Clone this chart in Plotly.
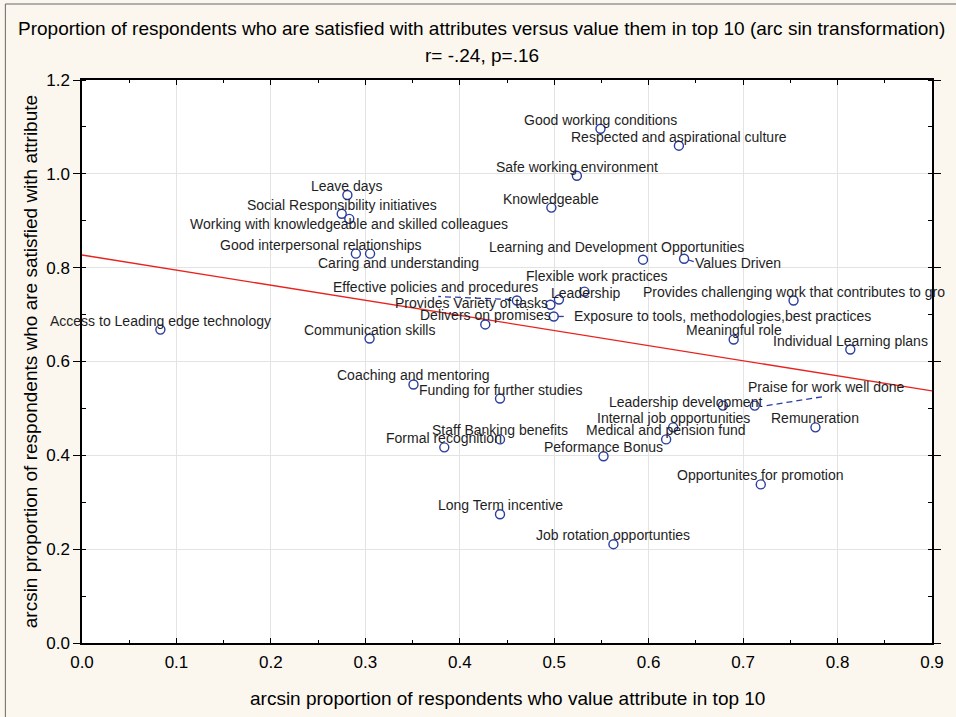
import plotly.graph_objects as go

# ---- data ----
attributes = [
    "Access to Leading edge technology", "Good working conditions",
    "Respected and aspirational culture", "Safe working environment",
    "Knowledgeable", "Leave days", "Social Responsibility initiatives",
    "Working with knowledgeable and skilled colleagues",
    "Good interpersonal relationships", "Caring and understanding",
    "Learning and Development Opportunities", "Values Driven",
    "Flexible work practices", "Leadership", "Provides Variety of tasks",
    "Effective policies and procedures", "Delivers on promises",
    "Exposure to tools, methodologies,best practices", "Communication skills",
    "Provides challenging work that contributes to gro", "Meaningful role",
    "Individual Learning plans", "Coaching and mentoring",
    "Funding for further studies", "Leadership development",
    "Praise for work well done", "Internal job opportunities",
    "Medical and pension fund", "Remuneration", "Peformance Bonus",
    "Staff Banking benefits", "Formal recognition",
    "Opportunites for promotion", "Long Term incentive",
    "Job rotation opportunties",
]
value_top10 = [0.083, 0.549, 0.632, 0.524, 0.497, 0.281, 0.275, 0.283, 0.290,
               0.305, 0.594, 0.6375, 0.532, 0.505, 0.496, 0.4605, 0.427, 0.4995,
               0.3045, 0.7534, 0.690, 0.8135, 0.351, 0.4426, 0.6786, 0.7123,
               0.6259, 0.6185, 0.7766, 0.5522, 0.4426, 0.3836, 0.7187, 0.4426,
               0.5627]
satisfied = [0.668, 1.096, 1.060, 0.996, 0.928, 0.955, 0.915, 0.904, 0.830,
             0.830, 0.817, 0.819, 0.749, 0.732, 0.721, 0.730, 0.679, 0.696,
             0.649, 0.730, 0.647, 0.6255, 0.551, 0.521, 0.506, 0.506, 0.4596,
             0.434, 0.4596, 0.398, 0.434, 0.417, 0.338, 0.2745, 0.2106]

fit_intercept = 0.827
fit_slope = -0.322
x_range = [0.0, 0.9]
y_range = [0.0, 1.2]

# ---- label placement (pixel offsets of label centre from point, y down) ----
label_offsets = {
    "Good interpersonal relationships": (-35, -9),
    "Caring and understanding": (28, 9),
    "Working with knowledgeable and skilled colleagues": (0, 5),
    "Learning and Development Opportunities": (-27, -13),
    "Values Driven": (54, 4),
    "Flexible work practices": (13, -16),
    "Leadership": (27, -7),
    "Provides Variety of tasks": (-79, -2),
    "Effective policies and procedures": (-81, -14),
    "Exposure to tools, methodologies,best practices": (169, 0),
    "Leadership development": (-37, -4),
    "Praise for work well done": (72, -19),
}
default_offset = (0, -9)
leaders = {  # (start offset, end offset) in pixels, y down
    "Effective policies and procedures": ((-6, -1), (-79, -4)),
    "Values Driven": ((4, 1), (10, 3)),
    "Exposure to tools, methodologies,best practices": ((4, 0), (11, 0)),
    "Praise for work well done": ((12, 0), (69, -9)),
}

W, H = 956, 717
ML, MR, MT, MB = 82, 20, 80, 74
pw, ph = W - ML - MR, H - MT - MB
px_x = pw / (x_range[1] - x_range[0])
px_y = ph / (y_range[1] - y_range[0])

BLUE = "#2B3D9E"
FONT = "Liberation Sans, Arial, sans-serif"

fig = go.Figure()

# regression line
fig.add_trace(go.Scatter(
    x=x_range, y=[fit_intercept + fit_slope * v for v in x_range],
    mode="lines", line=dict(color="#E8221E", width=1.3),
    hoverinfo="skip", showlegend=False))

# leader lines
for name, (s, e) in leaders.items():
    i = attributes.index(name)
    x0, y0 = value_top10[i], satisfied[i]
    fig.add_trace(go.Scatter(
        x=[x0 + s[0] / px_x, x0 + e[0] / px_x],
        y=[y0 - s[1] / px_y, y0 - e[1] / px_y],
        mode="lines", line=dict(color=BLUE, width=1.3, dash="6px,4px"),
        hoverinfo="skip", showlegend=False))

fig.add_trace(go.Scatter(
    x=value_top10, y=satisfied, mode="markers", text=attributes,
    marker=dict(symbol="circle-open", size=9, color=BLUE, line=dict(width=1.4, color=BLUE)),
    showlegend=False))

for name, xv, yv in zip(attributes, value_top10, satisfied):
    dx, dy = label_offsets.get(name, default_offset)
    fig.add_annotation(x=xv, y=yv, text=name, showarrow=False,
                       xshift=dx, yshift=-dy, xanchor="center", yanchor="middle",
                       font=dict(family=FONT, size=14, color="#1E1E1E"))

# titles
fig.add_annotation(xref="paper", yref="paper", x=(483.5 - ML) / pw, y=(643 - 28) / ph,
                   text="Proportion of respondents who are satisfied with attributes versus value them in top 10 (arc sin transformation)",
                   showarrow=False, xanchor="center", yanchor="middle",
                   font=dict(family=FONT, size=19, color="#000000"))
fig.add_annotation(xref="paper", yref="paper", x=(483.5 - ML) / pw, y=(643 - 56) / ph,
                   text="r= -.24, p=.16", showarrow=False, xanchor="center", yanchor="middle",
                   font=dict(family=FONT, size=19, color="#000000"))
fig.add_annotation(xref="paper", yref="paper", x=(510 - ML) / pw, y=(643 - 698) / ph,
                   text="arcsin proportion of respondents who value attribute in top 10",
                   showarrow=False, xanchor="center", yanchor="middle",
                   font=dict(family=FONT, size=19, color="#000000"))
fig.add_annotation(xref="paper", yref="paper", x=(30 - ML) / pw, y=(643 - 362) / ph,
                   text="arcsin proportion of respondents who are satisfied with attribute",
                   showarrow=False, xanchor="center", yanchor="middle", textangle=-90,
                   font=dict(family=FONT, size=19, color="#000000"))

# outer frame (top and left edges visible in the reference)
fig.add_shape(type="line", xref="paper", yref="paper",
              x0=(5 - ML) / pw, x1=(W + 5 - ML) / pw, y0=(643 - 4) / ph, y1=(643 - 4) / ph,
              line=dict(color="#666666", width=1))
fig.add_shape(type="line", xref="paper", yref="paper",
              x0=(5 - ML) / pw, x1=(5 - ML) / pw, y0=(643 - 4) / ph, y1=(643 - H - 5) / ph,
              line=dict(color="#666666", width=1))

fig.update_layout(
    width=W, height=H,
    margin=dict(l=ML, r=MR, t=MT, b=MB, pad=0),
    paper_bgcolor="#FBF7EF", plot_bgcolor="#FFFFFF",
    font=dict(family=FONT, size=17, color="#000000"),
    showlegend=False,
)
fig.update_xaxes(range=x_range, dtick=0.1, tick0=0, tickformat=".1f",
                 showgrid=True, gridcolor="#E3E3E3", gridwidth=1, zeroline=False,
                 showline=True, linecolor="#000000", linewidth=1.5, mirror="ticks",
                 ticks="inside", ticklen=5, tickcolor="#000000", ticklabelstandoff=3,
                 minor=dict(dtick=0.05, ticks="inside", ticklen=3, tickcolor="#000000", showgrid=False),
                 tickfont=dict(family=FONT, size=17, color="#000000"))
fig.update_yaxes(range=y_range, dtick=0.2, tick0=0, tickformat=".1f",
                 showgrid=True, gridcolor="#E3E3E3", gridwidth=1, zeroline=False,
                 showline=True, linecolor="#000000", linewidth=1.5, mirror="ticks",
                 ticks="outside", ticklen=7, tickcolor="#000000",
                 minor=dict(dtick=0.1, ticks="inside", ticklen=4, tickcolor="#000000", showgrid=False),
                 tickfont=dict(family=FONT, size=17, color="#000000"))

fig.write_html("out.html", config={"displayModeBar": False},
               post_script="document.body.style.margin='0';document.body.style.overflow='hidden';")
